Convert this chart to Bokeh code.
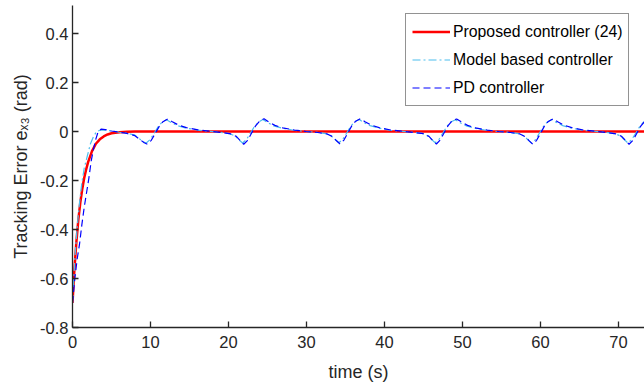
from bokeh.plotting import figure
from bokeh.models import Legend, LegendItem, FixedTicker, Range1d
from bokeh.embed import file_html
from bokeh.resources import INLINE

# ---------------- data ----------------
t_prop = [0, 0.25, 0.5, 0.75, 1.0, 1.25, 1.5, 1.75, 2.0, 2.5, 3.0, 3.5, 4.0, 4.5,
          5.0, 6.0, 7.0, 8.0, 75]
e_prop = [-0.70, -0.56, -0.45, -0.36, -0.29, -0.235, -0.19, -0.155, -0.125, -0.08,
          -0.05, -0.032, -0.02, -0.012, -0.007, -0.003, -0.001, 0.0, 0.0]

t_model = [0, 0.3, 0.6, 0.9, 1.2, 1.5, 1.9, 2.3, 2.7, 3.1, 3.6, 4.2, 5.0, 6.0, 7.0, 8.0, 8.6, 9.0,
           9.45, 9.95, 10.45, 10.95, 11.45, 12.05, 12.65, 13.45, 14.45, 15.95, 17.45, 18.95, 20.15, 20.85, 21.35,
           21.8, 22.3, 22.8, 23.3, 23.8, 24.4, 25.0, 25.8, 26.8, 28.3, 29.8, 31.3, 32.5, 33.2, 33.7,
           34.15, 34.65, 35.15, 35.65, 36.15, 36.75, 37.35, 38.15, 39.15, 40.65, 42.15, 43.65, 44.85, 45.55, 46.05,
           46.5, 47.0, 47.5, 48.0, 48.5, 49.1, 49.7, 50.5, 51.5, 53.0, 54.5, 56.0, 57.2, 57.9, 58.4,
           58.85, 59.35, 59.85, 60.35, 60.85, 61.45, 62.05, 62.85, 63.85, 65.35, 66.85, 68.35, 69.55, 70.25, 70.75,
           71.2, 71.7, 72.2, 72.7, 73.2, 73.8, 74.4]
e_model = [-0.70, -0.52, -0.39, -0.29, -0.21, -0.15, -0.10, -0.05, -0.02, 0.0, 0.006, 0.006, 0.002, -0.003, -0.007, -0.015, -0.03, -0.041,
           -0.047, -0.033, -0.008, 0.018, 0.037, 0.048, 0.037, 0.024, 0.015, 0.006, 0.001, -0.003, -0.009, -0.018, -0.034,
           -0.047, -0.033, -0.007, 0.019, 0.038, 0.049, 0.037, 0.023, 0.014, 0.005, 0.0, -0.003, -0.009, -0.019, -0.034,
           -0.046, -0.032, -0.006, 0.020, 0.039, 0.049, 0.037, 0.024, 0.015, 0.005, 0.001, -0.003, -0.008, -0.018, -0.033,
           -0.046, -0.031, -0.005, 0.021, 0.039, 0.048, 0.036, 0.023, 0.014, 0.005, 0.0, -0.003, -0.009, -0.019, -0.034,
           -0.047, -0.033, -0.007, 0.019, 0.038, 0.049, 0.037, 0.024, 0.015, 0.005, 0.001, -0.003, -0.009, -0.018, -0.033,
           -0.047, -0.033, -0.007, 0.019, 0.038, 0.049, 0.037]

t_pd = [0, 0.3, 0.6, 0.9, 1.2, 1.5, 1.8, 2.1, 2.4, 2.7, 3.0, 3.3, 3.7, 4.2, 5.0, 6.0, 7.0, 8.0, 8.7, 9.2,
        9.6, 10.1, 10.6, 11.1, 11.6, 12.2, 12.8, 13.6, 14.6, 16.1, 17.6, 19.1, 20.3, 21.0, 21.5,
        21.95, 22.45, 22.95, 23.45, 23.95, 24.55, 25.15, 25.95, 26.95, 28.45, 29.95, 31.45, 32.65, 33.35, 33.85,
        34.3, 34.8, 35.3, 35.8, 36.3, 36.9, 37.5, 38.3, 39.3, 40.8, 42.3, 43.8, 45.0, 45.7, 46.2,
        46.65, 47.15, 47.65, 48.15, 48.65, 49.25, 49.85, 50.65, 51.65, 53.15, 54.65, 56.15, 57.35, 58.05, 58.55,
        59.0, 59.5, 60.0, 60.5, 61.0, 61.6, 62.2, 63.0, 64.0, 65.5, 67.0, 68.5, 69.7, 70.4, 70.9,
        71.35, 71.85, 72.35, 72.85, 73.35, 73.95, 74.5]
e_pd = [-0.70, -0.60, -0.52, -0.46, -0.38, -0.31, -0.25, -0.19, -0.12, -0.07, -0.03, 0.0, 0.01, 0.008, 0.002, -0.003, -0.008, -0.017, -0.034, -0.046,
        -0.052, -0.036, -0.008, 0.020, 0.040, 0.051, 0.040, 0.026, 0.016, 0.007, 0.001, -0.004, -0.010, -0.020, -0.037,
        -0.052, -0.036, -0.007, 0.022, 0.041, 0.052, 0.039, 0.025, 0.015, 0.006, 0.0, -0.004, -0.010, -0.021, -0.038,
        -0.051, -0.035, -0.006, 0.023, 0.042, 0.052, 0.040, 0.026, 0.016, 0.006, 0.001, -0.004, -0.009, -0.020, -0.037,
        -0.051, -0.034, -0.005, 0.024, 0.043, 0.051, 0.039, 0.025, 0.015, 0.006, 0.0, -0.004, -0.010, -0.021, -0.038,
        -0.052, -0.036, -0.007, 0.022, 0.041, 0.052, 0.040, 0.026, 0.016, 0.006, 0.001, -0.004, -0.010, -0.020, -0.037,
        -0.052, -0.036, -0.007, 0.022, 0.041, 0.052, 0.040]

x_ticks = [0, 10, 20, 30, 40, 50, 60, 70]
y_ticks = [-0.8, -0.6, -0.4, -0.2, 0, 0.2, 0.4]
y_tick_labels = ["-0.8", "-0.6", "-0.4", "-0.2", "0", "0.2", "0.4"]
series_names = ["Proposed controller (24)", "Model based controller", "PD controller"]
x_title = "time (s)"
y_title = "Tracking Error e\u2093\u2083 (rad)"

# ---------------- figure ----------------
FONT = "Liberation Sans"
AX = "#262626"

p = figure(width=644, height=387, x_range=Range1d(0, 73.33), y_range=Range1d(-0.8, 0.5143),
           output_backend="svg", toolbar_location=None,
           min_border_left=72, min_border_right=0, min_border_top=5, min_border_bottom=60)
p.outline_line_color = None
p.background_fill_color = "white"
p.border_fill_color = "white"
p.xgrid.visible = False
p.ygrid.visible = False

r1 = p.line(t_prop, e_prop, line_color="#FF0000", line_width=2.5)
r2 = p.line(t_model, e_model, line_color="#4DBEEE", line_width=1.2, line_dash="8 3 2 3")
r3 = p.line(t_pd, e_pd, line_color="#0000FF", line_width=1.2, line_dash="7 4")

for ax in (p.xaxis[0], p.yaxis[0]):
    ax.axis_line_color = AX
    ax.axis_line_width = 1.3
    ax.major_tick_line_color = AX
    ax.major_tick_line_width = 1.3
    ax.major_tick_in = 6
    ax.major_tick_out = 0
    ax.minor_tick_line_color = None
    ax.major_label_text_font = FONT
    ax.major_label_text_font_size = "16.5px"
    ax.major_label_text_color = AX
    ax.axis_label_text_font = FONT
    ax.axis_label_text_font_size = "18px"
    ax.axis_label_text_font_style = "normal"
    ax.axis_label_text_color = AX

p.xaxis.major_label_standoff = 8
p.yaxis.major_label_standoff = 4
p.xaxis.ticker = FixedTicker(ticks=x_ticks)
p.yaxis.ticker = FixedTicker(ticks=y_ticks)
p.yaxis.major_label_overrides = {v: s for v, s in zip(y_ticks, y_tick_labels)}
p.xaxis.axis_label = x_title
p.xaxis.axis_label_standoff = 11
p.yaxis.axis_label = y_title
p.yaxis.axis_label_standoff = 6

legend = Legend(items=[LegendItem(label=series_names[0], renderers=[r1]),
                       LegendItem(label=series_names[1], renderers=[r2]),
                       LegendItem(label=series_names[2], renderers=[r3])],
                location=(333, 221))
legend.padding = 6
legend.spacing = 5
legend.margin = 0
legend.glyph_width = 38
legend.glyph_height = 23
legend.label_height = 23
legend.label_standoff = 3
legend.label_text_font = FONT
legend.label_text_font_size = "15.8px"
legend.label_text_color = "#000000"
legend.border_line_color = AX
legend.border_line_width = 1
legend.background_fill_color = "white"
legend.background_fill_alpha = 1.0
p.add_layout(legend)

open("out.html", "w").write(file_html(p, INLINE))
